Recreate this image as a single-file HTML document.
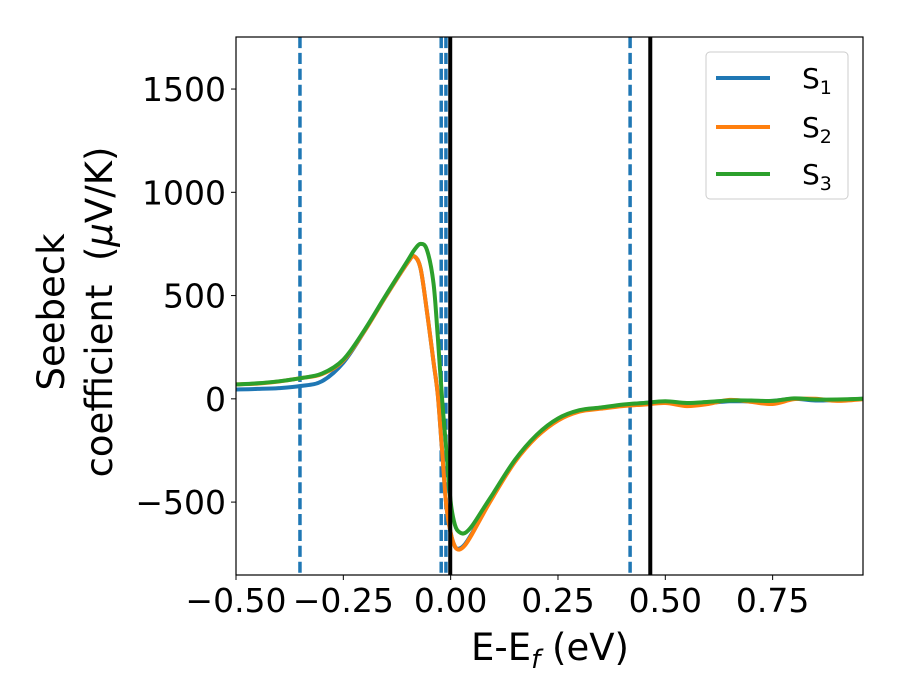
<!DOCTYPE html>
<html><head><meta charset="utf-8"><style>body{margin:0;background:#fff}svg{display:block;font-family:"DejaVu Sans","Liberation Sans",sans-serif}</style></head>
<body>
<svg id="chart" width="900" height="700">
<rect width="900" height="700" fill="#fff"/>
</svg>
<script>
const xs=[-0.5,-0.45,-0.4,-0.35,-0.3,-0.25,-0.2,-0.15,-0.1,-0.085,-0.07,-0.055,-0.04,-0.03,-0.02,-0.01,0,0.01,0.02,0.033,0.05,0.075,0.1,0.15,0.2,0.25,0.3,0.35,0.4,0.45,0.5,0.55,0.6,0.65,0.7,0.75,0.8,0.85,0.9,0.96];
const s1=[45,48,52,62,85,175,330,500,660,690,630,420,180,20,-250,-520,-650,-715,-725,-705,-650,-555,-465,-300,-180,-100,-60,-45,-30,-20,-15,-25,-20,-12,-12,-10,0,-8,-5,0];
const s2=[70,74,84,100,120,185,330,500,660,690,630,420,180,20,-250,-520,-650,-715,-730,-710,-655,-560,-470,-305,-185,-105,-62,-48,-35,-28,-20,-35,-25,-5,-15,-25,-2,0,-10,-2];
const s3=[70,75,85,100,122,190,335,505,670,720,750,720,560,300,0,-250,-500,-610,-645,-650,-615,-535,-455,-295,-175,-95,-55,-42,-28,-20,-12,-20,-15,-8,-8,-10,2,-3,-3,0];
const dashedLines=[-0.351,-0.022,-0.011,0.418];
const solidLines=[-0.001,0.465];
const xTicks=[-0.5,-0.25,0,0.25,0.5,0.75];
const xTickLabels=["−0.50","−0.25","0.00","0.25","0.50","0.75"];
const yTicks=[-500,0,500,1000,1500];
const yTickLabels=["−500","0","500","1000","1500"];
const L=236,R=863,T=37,B=575,xmin=-0.5,xmax=0.9605,ymin=-853,ymax=1752;
const X=v=>L+(v-xmin)/(xmax-xmin)*(R-L);
const Y=v=>B-(v-ymin)/(ymax-ymin)*(B-T);
const NS="http://www.w3.org/2000/svg";
const svg=document.getElementById('chart');
function mk(t,a,p){const e=document.createElementNS(NS,t);for(const k in a)e.setAttribute(k,a[k]);(p||svg).appendChild(e);return e;}
function smooth(pts){let d='M'+pts[0][0].toFixed(1)+','+pts[0][1].toFixed(1);
for(let i=0;i<pts.length-1;i++){const p0=pts[Math.max(0,i-1)],p1=pts[i],p2=pts[i+1],p3=pts[Math.min(pts.length-1,i+2)];
const c1=[p1[0]+(p2[0]-p0[0])/6,p1[1]+(p2[1]-p0[1])/6],c2=[p2[0]-(p3[0]-p1[0])/6,p2[1]-(p3[1]-p1[1])/6];
d+='C'+c1[0].toFixed(1)+','+c1[1].toFixed(1)+' '+c2[0].toFixed(1)+','+c2[1].toFixed(1)+' '+p2[0].toFixed(1)+','+p2[1].toFixed(1);}
return d;}
const clip=mk('clipPath',{id:'c'});mk('rect',{x:L,y:T,width:R-L,height:B-T},clip);
const g=mk('g',{'clip-path':'url(#c)'});


dashedLines.forEach(v=>{const l=mk('line',{x1:X(v),x2:X(v),y1:T,y2:B,stroke:'#1f77b4','stroke-width':3.5,'stroke-dasharray':'11.1 4.8'},g);

});
const cols=['#1f77b4','#ff7f0e','#2ca02c'];
[s1,s2,s3].forEach((s,i)=>{const pts=s.map((v,j)=>[X(xs[j]),Y(v)]);
const p=mk('path',{d:smooth(pts),fill:'none',stroke:cols[i],'stroke-width':4,'stroke-linejoin':'round'},g);

});
solidLines.forEach(v=>{const l=mk('line',{x1:X(v),x2:X(v),y1:T,y2:B,stroke:'#000','stroke-width':4},g);

});
const fr=mk('rect',{x:L,y:T,width:R-L,height:B-T,fill:'none',stroke:'#000','stroke-width':1.2});


xTicks.forEach((v,i)=>{mk('line',{x1:X(v),x2:X(v),y1:B,y2:B+5,stroke:'#000','stroke-width':1});
const t=mk('text',{x:X(v),y:B+37,'text-anchor':'middle','font-size':33});t.textContent=xTickLabels[i];

});
yTicks.forEach((v,i)=>{mk('line',{x1:L-5,x2:L,y1:Y(v),y2:Y(v),stroke:'#000','stroke-width':1});
const t=mk('text',{x:L-10,y:Y(v)+12,'text-anchor':'end','font-size':33});t.textContent=yTickLabels[i];

});
</script>
<svg style="position:absolute;left:0;top:0" width="900" height="700">
<text x="550" y="660" text-anchor="middle" font-size="37">E-E<tspan font-size="26" dy="8" font-style="italic">f</tspan><tspan dy="-8"> (eV)</tspan></text>
<g transform="translate(64,312) rotate(-90)">
<text x="0" y="0" text-anchor="middle" font-size="37">Seebeck</text>
<text x="0" y="48" text-anchor="middle" font-size="37" xml:space="preserve">coefficient  (<tspan font-style="italic">μ</tspan>V/K)</text>
</g>
<g>
<rect x="706" y="52" width="142" height="147" rx="4" fill="#fff" stroke="#ccc" stroke-width="1"/>
<line x1="716" x2="770" y1="78" y2="78" stroke="#1f77b4" stroke-width="4"/>
<text x="802" y="88" font-size="28">S<tspan font-size="19" dy="6">1</tspan></text>
<line x1="716" x2="770" y1="127" y2="127" stroke="#ff7f0e" stroke-width="4"/>
<text x="802" y="137" font-size="28">S<tspan font-size="19" dy="6">2</tspan></text>
<line x1="716" x2="770" y1="174" y2="174" stroke="#2ca02c" stroke-width="4"/>
<text x="802" y="184" font-size="28">S<tspan font-size="19" dy="6">3</tspan></text>
</g>
</svg>
</body></html>
